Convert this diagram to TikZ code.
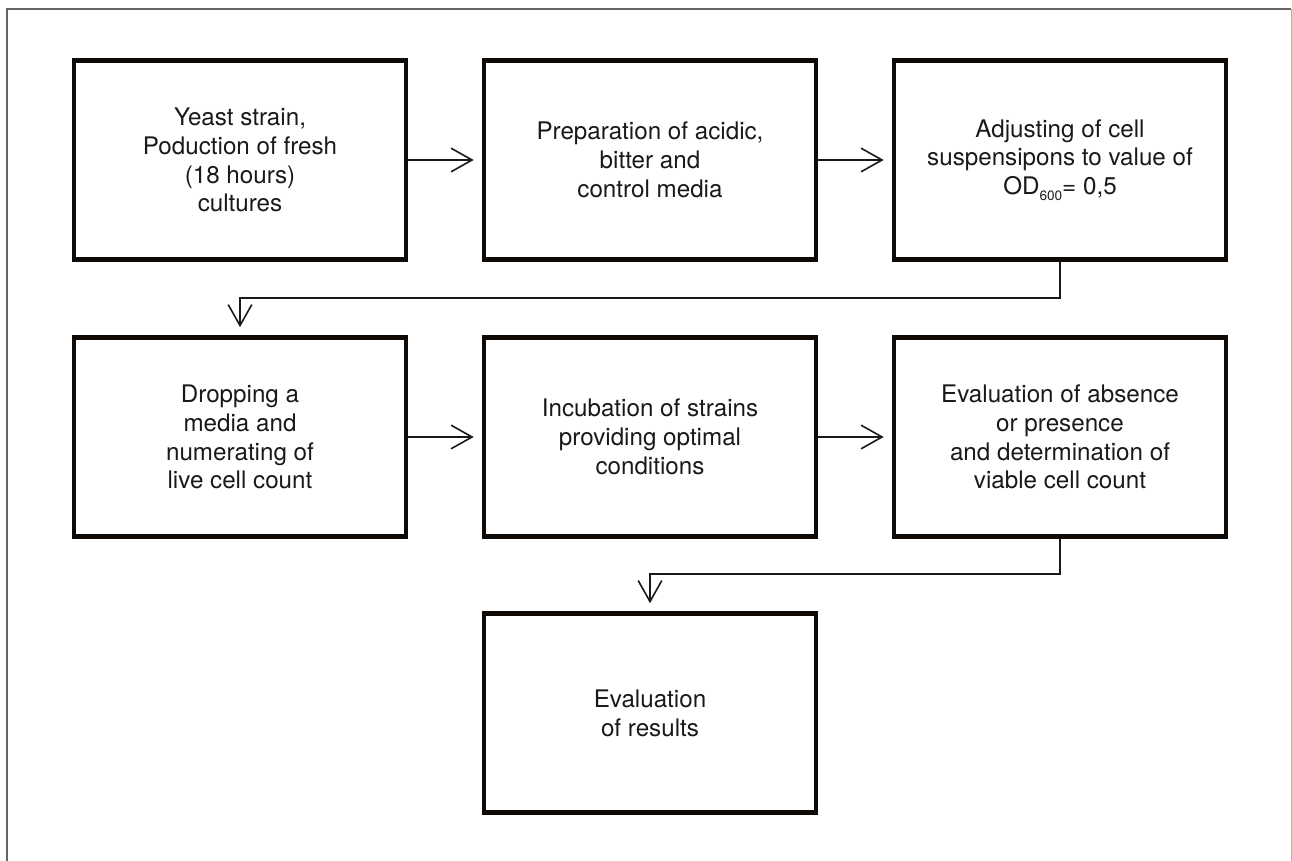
\documentclass[tikz,border=0pt]{standalone}
\usepackage{fontspec}
\setmainfont{TeX Gyre Heros}
\usetikzlibrary{arrows.meta}
\tikzset{
  stepbox/.style={draw=black!92!brown, line width=2.3pt, minimum width=166pt, minimum height=99.5pt,
    inner sep=0pt, align=center, font=\fontsize{12.1}{14.4}\selectfont, text=black!90},
  flow/.style={line width=0.8pt, draw=black!90, -{Straight Barb[length=10.5pt,width=11.8pt,line width=0.8pt]}, shorten >=4pt},
  framel/.style={line width=0.6pt, draw=black!60}
}
\begin{document}
\begin{tikzpicture}[x=0.5pt,y=-0.5pt]
\useasboundingbox (0,0) rectangle (1292,861);
\draw[framel] (7,861) -- (7,9) -- (1291,9);
\draw[line width=0.5pt, draw=black!30] (1291,9) -- (1291,861);

\node[stepbox] (b1) at (240,160) {Yeast strain,\\Poduction of fresh\\(18 hours)\\cultures};
\node[stepbox] (b2) at (650,160) {Preparation of acidic,\\bitter and\\control media};
\node[stepbox] (b3) at (1060,160) {Adjusting of cell\\suspensipons to value of\\OD\raisebox{-0.45ex}{\fontsize{6.8}{7}\selectfont 600}= 0,5};
\node[stepbox] (b4) at (240,437) {Dropping a\\media and\\numerating of\\live cell count};
\node[stepbox] (b5) at (650,437) {Incubation of strains\\providing optimal\\conditions};
\node[stepbox] (b6) at (1060,437) {Evaluation of absence\\or presence\\and determination of\\viable cell count};
\node[stepbox] (b7) at (650,713) {Evaluation\\of results};

\coordinate (m1) at (0,298);
\coordinate (m2) at (0,574);

\draw[flow] (b1) -- (b2);
\draw[flow] (b2) -- (b3);
\draw[flow] (b4) -- (b5);
\draw[flow] (b5) -- (b6);
\draw[flow] (b3.south) -- (b3.south |- m1) -- (b4.north |- m1) -- (b4.north);
\draw[flow] (b6.south) -- (b6.south |- m2) -- (b7.north |- m2) -- (b7.north);
\end{tikzpicture}
\end{document}
